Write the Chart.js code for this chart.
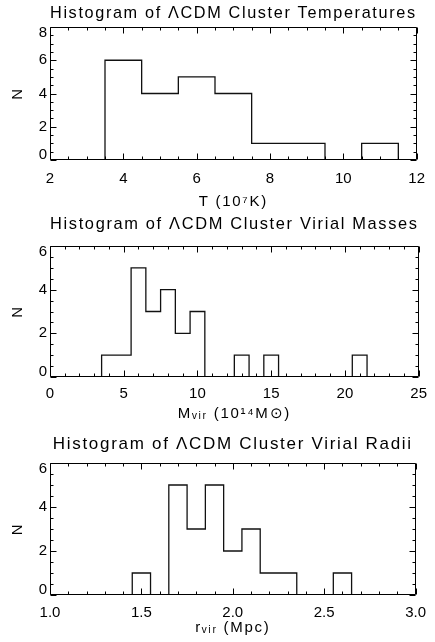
<!DOCTYPE html>
<html><head><meta charset="utf-8">
<script src="https://cdn.jsdelivr.net/npm/chart.js@4"></script>
<style>
html,body{margin:0;padding:0;background:#fff;}
#wrap{position:relative;width:435px;height:642px;background:#fff;}
canvas{position:absolute;left:0;top:0;}
</style></head><body><div id="wrap">
<canvas id="c1" width="435" height="642"></canvas>
<canvas id="c2" width="435" height="642"></canvas>
<canvas id="c3" width="435" height="642"></canvas>
</div>
<script>
// ---- data ----
const tempBinCenters = [4, 5, 6, 7, 8, 9, 10, 11];
const tempCounts     = [6, 4, 5, 4, 1, 1, 0, 1];
const massBinCenters = [4, 5, 6, 7, 8, 9, 10, 11, 12, 13, 14, 15, 16, 17, 18, 19, 20, 21];
const massCounts     = [1, 1, 5, 3, 4, 2, 3, 0, 0, 1, 0, 1, 0, 0, 0, 0, 0, 1];
const radiusBinCenters = [1.5, 1.6, 1.7, 1.8, 1.9, 2.0, 2.1, 2.2, 2.3, 2.4, 2.5, 2.6];
const radiusCounts     = [1, 0, 5, 3, 5, 2, 3, 1, 1, 0, 0, 1];
const tempTicks   = [2, 4, 6, 8, 10, 12];
const massTicks   = [0, 5, 10, 15, 20, 25];
const radiusTicks = [1.0, 1.5, 2.0, 2.5, 3.0];
const tempCountTicks   = [0, 2, 4, 6, 8];
const massCountTicks   = [0, 2, 4, 6];
const radiusCountTicks = [0, 2, 4, 6];
const panelTitles = [
  'Histogram of \u039BCDM Cluster Temperatures',
  'Histogram of \u039BCDM Cluster Virial Masses',
  'Histogram of \u039BCDM Cluster Virial Radii'
];
const xTitles = ['T (10\u2077K)', 'M\u1D65\u1D62\u1D63 (10\u00B9\u2074M\u2299)', 'r\u1D65\u1D62\u1D63 (Mpc)'];
const yTitle = 'N';

// ---- layout / style (page coordinates) ----
const panels = [
  {id:'c1', centers: tempBinCenters, counts: tempCounts, xt: tempTicks, yt: tempCountTicks,
   padTop: 2.8, titlePadBottom: 3.8, padBottom: 431, xHeight: 51, xTickPad: 10, xMinor: 0.5, yMinor: 0.5, dec: 0},
  {id:'c2', centers: massBinCenters, counts: massCounts, xt: massTicks, yt: massCountTicks,
   padTop: 213.8, titlePadBottom: 11.8, padBottom: 219, xHeight: 46, xTickPad: 8, xMinor: 1, yMinor: 0.5, dec: 0},
  {id:'c3', centers: radiusBinCenters, counts: radiusCounts, xt: radiusTicks, yt: radiusCountTicks,
   padTop: 434.3, titlePadBottom: 8.3, padBottom: 5, xHeight: 42, xTickPad: 9, xMinor: 0.1, yMinor: 0.5, dec: 1}
];

const FONT = "'Liberation Sans', Arial, sans-serif";
Chart.defaults.color = '#000';
Chart.defaults.font.family = FONT;

function outline(centers, counts) {
  const w = centers[1] - centers[0];
  const pts = [{x: centers[0] - w / 2, y: 0}];
  centers.forEach((c, i) => {
    pts.push({x: c - w / 2, y: counts[i]});
    pts.push({x: c + w / 2, y: counts[i]});
  });
  pts.push({x: centers[centers.length - 1] + w / 2, y: 0});
  return pts;
}

const framePlugin = {
  id: 'frame',
  beforeDraw(chart) { chart.ctx.letterSpacing = '1.7px'; },
  beforeDatasetsDraw(chart) { chart.ctx.letterSpacing = '0px'; },
  afterDraw(chart, args, opts) {
    const {ctx, chartArea: a, scales: {x, y}} = chart;
    ctx.save();
    ctx.strokeStyle = '#000';
    ctx.lineWidth = 1;
    const L = Math.round(a.left) + 0.5, R = Math.round(a.right) - 0.5;
    const T = Math.round(a.top) + 0.5, B = Math.round(a.bottom) - 0.5;
    ctx.beginPath();
    ctx.rect(L, T, R - L, B - T);
    const isMajor = (scale, v) => scale.ticks.some(t => Math.abs(t.value - v) < 1e-6);
    const nx = Math.round((x.max - x.min) / opts.xMinor);
    for (let i = 0; i <= nx; i++) {
      const v = x.min + i * opts.xMinor;
      const len = isMajor(x, v) ? 6 : 3;
      const px = Math.round(x.getPixelForValue(v)) + 0.5;
      ctx.moveTo(px, B); ctx.lineTo(px, B - len);
      ctx.moveTo(px, T); ctx.lineTo(px, T + len);
    }
    const ny = Math.round((y.max - y.min) / opts.yMinor);
    for (let i = 0; i <= ny; i++) {
      const v = y.min + i * opts.yMinor;
      const len = isMajor(y, v) ? 6 : 3;
      const py = Math.round(y.getPixelForValue(v)) + 0.5;
      ctx.moveTo(L, py); ctx.lineTo(L + len, py);
      ctx.moveTo(R, py); ctx.lineTo(R - len, py);
    }
    ctx.stroke();
    ctx.restore();
  }
};

panels.forEach((p, k) => {
  new Chart(document.getElementById(p.id), {
    type: 'scatter',
    data: {
      datasets: [{
        data: outline(p.centers, p.counts),
        showLine: true,
        borderColor: '#111',
        borderWidth: 1.3,
        pointRadius: 0,
        tension: 0,
        fill: false
      }]
    },
    plugins: [framePlugin],
    options: {
      responsive: false,
      animation: false,
      devicePixelRatio: 1,
      events: [],
      layout: {padding: {top: p.padTop, bottom: p.padBottom, left: 0, right: 11}},
      plugins: {
        legend: {display: false},
        tooltip: {enabled: false},
        title: {
          display: true,
          text: panelTitles[k],
          fullSize: false,
          color: '#000',
          font: {family: FONT, size: 17, weight: 'normal', lineHeight: 1.2},
          padding: {top: 0, bottom: p.titlePadBottom}
        },
        frame: {xMinor: p.xMinor, yMinor: p.yMinor}
      },
      scales: {
        x: {
          type: 'linear',
          position: 'bottom',
          min: p.xt[0],
          max: p.xt[p.xt.length - 1],
          afterBuildTicks: s => { s.ticks = p.xt.map(v => ({value: v})); },
          afterFit: s => { s.height = p.xHeight; },
          grid: {display: false, drawTicks: false},
          border: {display: false},
          ticks: {
            z: 1,
            padding: p.xTickPad,
            maxRotation: 0,
            autoSkip: false,
            font: {family: FONT, size: 15},
            callback: v => Number(v).toFixed(p.dec)
          },
          title: {display: true, text: xTitles[k], font: {family: FONT, size: 15, lineHeight: 1.2}, padding: {top: 0, bottom: 0}}
        },
        y: {
          type: 'linear',
          position: 'left',
          min: p.yt[0],
          max: p.yt[p.yt.length - 1],
          afterBuildTicks: s => { s.ticks = p.yt.map(v => ({value: v})); },
          afterFit: s => { s.width = 50; },
          grid: {display: false, drawTicks: false},
          border: {display: false},
          ticks: {
            z: 1,
            padding: 3,
            autoSkip: false,
            font: {family: FONT, size: 15, lineHeight: 0.75},
            callback: (v, i, arr) => i === arr.length - 1 ? ['', String(v)] : (i === 0 ? [String(v), ''] : String(v))
          },
          title: {display: true, text: yTitle, font: {family: FONT, size: 15, lineHeight: 1.2}, padding: {top: 9.3, bottom: 0}}
        }
      }
    }
  });
});
</script></body></html>
